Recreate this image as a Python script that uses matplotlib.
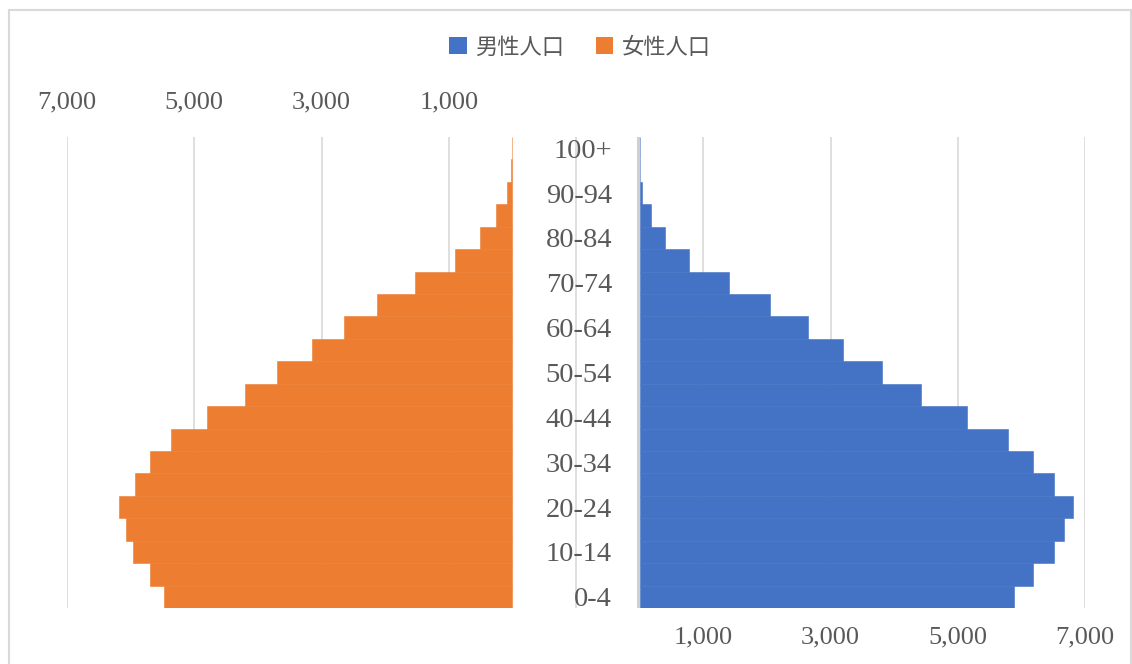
import matplotlib
matplotlib.use("Agg")
import matplotlib.pyplot as plt
from matplotlib.patches import Rectangle, Patch
from matplotlib.ticker import FuncFormatter
import numpy as np

plt.rcParams["font.family"] = ["Liberation Serif", "DejaVu Serif"]

# Age groups (bottom to top)
age_groups = ["0-4", "5-9", "10-14", "15-19", "20-24", "25-29", "30-34",
              "35-39", "40-44", "45-49", "50-54", "55-59", "60-64", "65-69",
              "70-74", "75-79", "80-84", "85-89", "90-94", "95-99", "100+"]

# Population by age group
male_pop = [5880, 6185, 6520, 6665, 6810, 6520, 6180, 5790, 5150, 4430,
            3815, 3200, 2645, 2050, 1410, 770, 400, 180, 45, 5, 0]
female_pop = [5480, 5690, 5955, 6065, 6190, 5925, 5690, 5370, 4805, 4205,
              3700, 3150, 2645, 2120, 1530, 900, 510, 250, 90, 25, 8]

series_names = ["男性人口", "女性人口"]
tick_values = [-1000, 1000, 3000, 5000, 7000]

male_color = "#4472C4"
female_color = "#ED7D31"
grid_color = "#D9D9D9"
text_color = "#595959"

cjk_font = ["Noto Sans CJK JP", "DejaVu Sans"]

W, H = 1132, 664
fig = plt.figure(figsize=(W / 100, H / 100), dpi=100)

def fx(px):
    return px / W

def fy(py):
    return 1 - py / H

top_px, bot_px = 137, 608
ax_h = (bot_px - top_px) / H
ax_b = fy(bot_px)

ax_f = fig.add_axes([fx(67), ax_b, fx(576) - fx(67), ax_h])
ax_m = fig.add_axes([fx(576), ax_b, fx(1085) - fx(576), ax_h])

y = np.arange(len(age_groups))

fmt = FuncFormatter(lambda v, p: "" if v < 0 else f"{int(v):,}")

for ax, vals, col in ((ax_f, female_pop, female_color), (ax_m, male_pop, male_color)):
    ax.barh(y, vals, height=1.0, color=col, edgecolor=col, linewidth=0.4, zorder=3)
    ax.set_ylim(-0.5, len(age_groups) - 0.5)
    ax.set_xticks(tick_values)
    ax.xaxis.set_major_formatter(fmt)
    ax.grid(axis="x", color=grid_color, linewidth=1.2, zorder=0)
    ax.set_axisbelow(True)
    for s in ax.spines.values():
        s.set_visible(False)
    ax.set_facecolor("none")

# Female side: reversed scale, labels on top
ax_f.set_xlim(7000, -1000)
ax_f.xaxis.tick_top()
ax_f.tick_params(axis="x", length=0, pad=17, labelsize=19, labelcolor=text_color)
ax_f.set_yticks([])

# Male side: labels at bottom, age labels on the left
ax_m.set_xlim(-1000, 7000)
ax_m.tick_params(axis="x", length=0, pad=13, labelsize=19, labelcolor=text_color)
ax_m.axvline(-20, color="#D0D0D0", linewidth=2.2, zorder=2)
ax_m.set_yticks(y[::2])
ax_m.set_yticklabels(age_groups[::2])
ax_m.tick_params(axis="y", length=0, pad=-26, labelsize=20.5, labelcolor=text_color)
for lab in ax_m.get_yticklabels():
    lab.set_horizontalalignment("right")

# Legend
handles = [Patch(facecolor=male_color, edgecolor="none"),
           Patch(facecolor=female_color, edgecolor="none")]
leg = fig.legend(handles, series_names, loc="center", bbox_to_anchor=(fx(580), fy(47)),
                 ncol=2, frameon=False, handlelength=0.8, handleheight=0.8,
                 handletextpad=0.4, columnspacing=1.4,
                 prop={"family": cjk_font, "size": 16})
for t in leg.get_texts():
    t.set_color(text_color)

# Chart border
fig.patches.append(Rectangle((fx(8.5), fy(700)), fx(1131) - fx(8.5), fy(10.5) - fy(700),
                             transform=fig.transFigure, fill=False,
                             edgecolor=grid_color, linewidth=1.5))

fig.savefig("out.png", dpi=100, facecolor="white")
